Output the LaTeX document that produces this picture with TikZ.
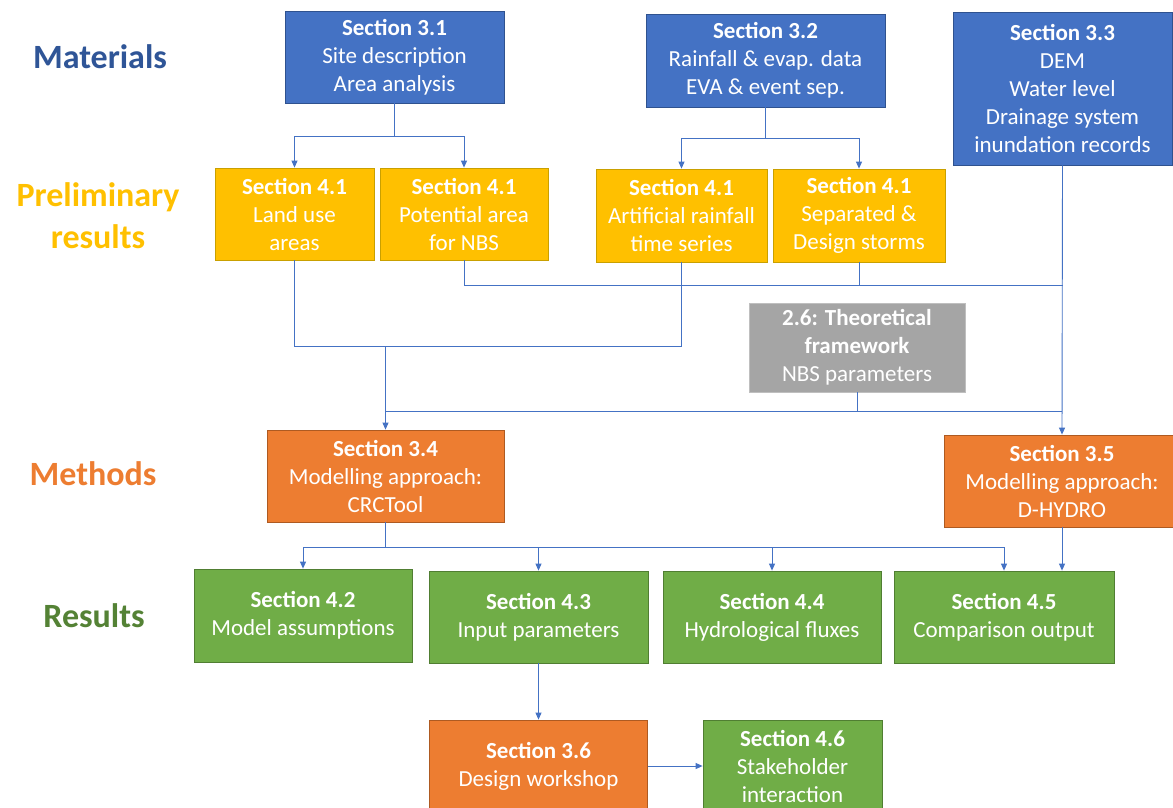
\documentclass[tikz,border=0pt]{standalone}
\usepackage{fontspec}
\setmainfont{Carlito}
\usetikzlibrary{arrows.meta,calc}
\definecolor{cblue}{HTML}{4472C4}
\definecolor{cblueD}{HTML}{2F528F}
\definecolor{cyel}{HTML}{FFC000}
\definecolor{cyelD}{HTML}{C9A000}
\definecolor{corg}{HTML}{ED7D31}
\definecolor{corgD}{HTML}{AE5A21}
\definecolor{cgrn}{HTML}{70AD47}
\definecolor{cgrnD}{HTML}{507E32}
\definecolor{cgry}{HTML}{A5A5A5}
\definecolor{cgryD}{HTML}{BFBFBF}
\definecolor{lblue}{HTML}{2F5597}
\definecolor{lgreen}{HTML}{548235}
\definecolor{conncol}{HTML}{4472C4}
\tikzset{
  box/.style={rectangle, inner sep=0pt, align=center, text=white, line width=0.8pt,
    font=\fontsize{23}{28}\selectfont},
  bluebox/.style={box, fill=cblue, draw=cblueD},
  yelbox/.style={box, fill=cyel, draw=cyelD},
  orgbox/.style={box, fill=corg, draw=corgD},
  grnbox/.style={box, fill=cgrn, draw=cgrnD},
  grybox/.style={box, fill=cgry, draw=cgryD},
  conn/.style={draw=conncol, line width=0.9pt},
  arr/.style={conn, -{Triangle[length=7pt,width=6pt]}},
  sidelabel/.style={font=\fontsize{34}{42}\selectfont\bfseries, align=center, anchor=base},
}
\begin{document}
\begin{tikzpicture}[x=1pt,y=-1pt]
\useasboundingbox[fill=white] (0,0) rectangle (1173,807);

% side labels
\node[sidelabel, text=lblue] (lmat) at (100,68) {Materials};
\node[sidelabel, text=cyel] (lpre) at (98,248) {Preliminary\\results};
\node[sidelabel, text=corg] (lmet) at (93,485) {Methods};
\node[sidelabel, text=lgreen] (lres) at (94,627) {Results};

% materials
\node[bluebox, minimum width=219pt, minimum height=92pt] (s31) at (394.5,57) {\textbf{Section 3.1}\\Site description\\Area analysis};
\node[bluebox, minimum width=239pt, minimum height=93pt] (s32) at (765.5,60.5) {\textbf{Section 3.2}\\Rainfall \& evap. data\\EVA \& event sep.};
\node[bluebox, minimum width=219pt, minimum height=153pt] (s33) at (1062.5,88.5) {\textbf{Section 3.3}\\DEM\\Water level\\Drainage system\\inundation records};

% preliminary
\node[yelbox, minimum width=159pt, minimum height=92pt] (land) at (294.5,214) {\textbf{Section 4.1}\\Land use\\areas};
\node[yelbox, minimum width=168pt, minimum height=92pt] (pot) at (464,214) {\textbf{Section 4.1}\\Potential area\\for NBS};
\node[yelbox, minimum width=171pt, minimum height=93pt] (art) at (681.5,215.5) {\textbf{Section 4.1}\\Artificial rainfall\\time series};
\node[yelbox, minimum width=172pt, minimum height=93pt] (sep) at (859,215.5) {\textbf{Section 4.1}\\Separated \&\\Design storms};

% theoretical
\node[grybox, minimum width=216pt, minimum height=89pt] (theo) at (857,347.5) {\textbf{2.6: Theoretical}\\\textbf{framework}\\NBS parameters};

% methods
\node[orgbox, minimum width=237pt, minimum height=92pt] (s34) at (385.5,476) {\textbf{Section 3.4}\\Modelling approach:\\CRCTool};
\node[orgbox, minimum width=236pt, minimum height=92pt] (s35) at (1062,481) {\textbf{Section 3.5}\\Modelling approach:\\D-HYDRO};

% results
\node[grnbox, minimum width=218pt, minimum height=93pt] (g42) at (303,615.5) {\textbf{Section 4.2}\\Model assumptions};
\node[grnbox, minimum width=219pt, minimum height=92pt] (g43) at (538.5,617) {\textbf{Section 4.3}\\Input parameters};
\node[grnbox, minimum width=218pt, minimum height=92pt] (g44) at (772,617) {\textbf{Section 4.4}\\Hydrological fluxes};
\node[grnbox, minimum width=220pt, minimum height=92pt] (g45) at (1004,617) {\textbf{Section 4.5}\\Comparison output};

% bottom
\node[orgbox, minimum width=218pt, minimum height=92pt] (s36) at (538.5,766) {\textbf{Section 3.6}\\Design workshop};
\node[grnbox, minimum width=179pt, minimum height=92pt] (g46) at (792.5,766) {\textbf{Section 4.6}\\Stakeholder\\interaction};

% connectors: materials -> preliminary
\coordinate (ja) at ($(s31.south)+(0,33)$);
\draw[arr] (s31.south) -- (ja) -| (land.north);
\draw[arr] (ja) -| (pot.north);
\coordinate (jb) at ($(s32.south)+(0,31)$);
\draw[arr] (s32.south) -- (jb) -| (art.north);
\draw[arr] (jb) -| (sep.north);

% preliminary -> s34
\coordinate (j1) at (s34.north |- 0,346);
\draw[conn] (land.south) |- (j1);
\draw[conn] (art.south) |- (j1);
\draw[arr] (j1) -- (s34.north);

% preliminary / s33 -> s35
\coordinate (j2) at (s33.south |- 0,285);
\draw[conn] (pot.south) |- (j2);
\draw[conn] (sep.south) |- (j2);
\draw[arr] (s33.south) -- (s35.north);

% theoretical -> both
\coordinate (j3) at (s34.north |- 0,411);
\coordinate (j4) at (s35.north |- 0,411);
\draw[conn] (j3) -- (j4);
\draw[conn] (theo.south) -- (theo.south |- j4);

% s34 -> results
\coordinate (j5) at ($(s34.south)+(0,25)$);
\draw[conn] (s34.south) -- (j5);
\draw[arr] (j5) -| (g42.north);
\draw[arr] (j5) -| (g43.north);
\draw[arr] (j5) -| (g44.north);
\draw[arr] (j5) -| (g45.north);
\draw[arr] (s35.south) -- (s35.south |- g45.north);

% bottom
\draw[arr] (g43.south) -- (s36.north);
\draw[arr] (s36.east) -- (g46.west);
\end{tikzpicture}
\end{document}
